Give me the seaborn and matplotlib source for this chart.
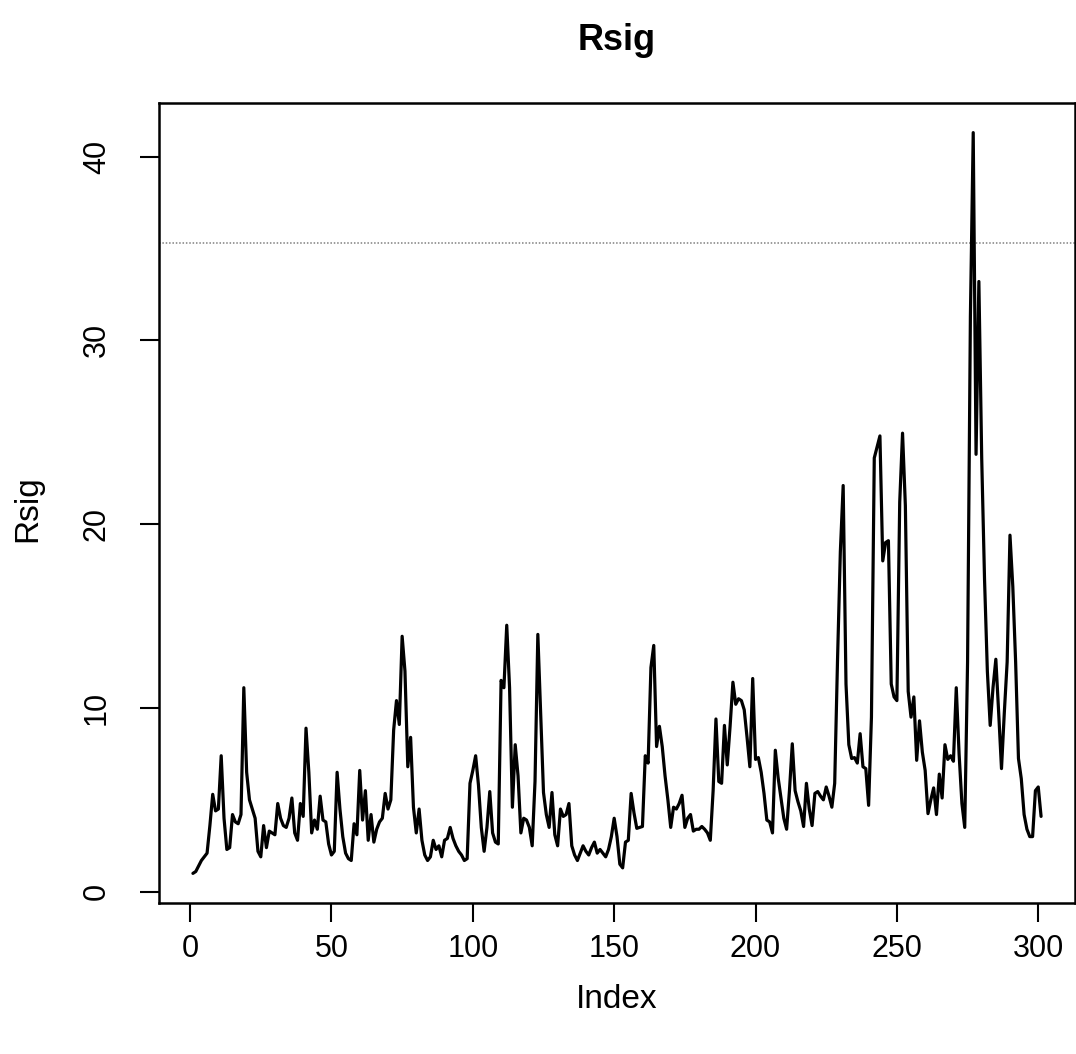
import numpy as np
import pandas as pd
import matplotlib
matplotlib.use("Agg")
import matplotlib.pyplot as plt
import seaborn as sns

# Rsig series (index 1..301), ten values per row
rsig = [
    1.0, 1.1, 1.4, 1.7, 1.9, 2.1, 3.6, 5.3, 4.4, 4.5,
    7.4, 4.0, 2.3, 2.4, 4.2, 3.8, 3.7, 4.2, 11.1, 6.5,
    5.0, 4.5, 4.0, 2.2, 1.9, 3.6, 2.4, 3.3, 3.2, 3.1,
    4.8, 4.0, 3.6, 3.5, 4.0, 5.1, 3.2, 2.8, 4.8, 4.1,
    8.9, 6.5, 3.2, 3.9, 3.4, 5.2, 3.9, 3.8, 2.6, 2.0,
    2.2, 6.5, 4.5, 3.0, 2.1, 1.8, 1.7, 3.7, 3.1, 6.6,
    3.9, 5.5, 2.8, 4.2, 2.7, 3.4, 3.8, 4.0, 5.35, 4.5,
    5.0, 8.8, 10.4, 9.1, 13.9, 12.0, 6.8, 8.4, 4.6, 3.2,
    4.5, 2.8, 2.0, 1.7, 1.9, 2.8, 2.3, 2.5, 1.9, 2.8,
    2.9, 3.5, 2.9, 2.5, 2.2, 2.0, 1.7, 1.8, 5.9, 6.6,
    7.4, 5.8, 3.5, 2.2, 3.5, 5.45, 3.2, 2.7, 2.6, 11.5,
    11.1, 14.5, 11.1, 4.6, 8.0, 6.3, 3.2, 4.0, 3.9, 3.5,
    2.5, 6.0, 14.0, 9.7, 5.4, 4.2, 3.5, 5.4, 3.1, 2.5,
    4.5, 4.1, 4.2, 4.8, 2.5, 2.0, 1.7, 2.1, 2.5, 2.2,
    2.0, 2.4, 2.7, 2.1, 2.3, 2.1, 1.9, 2.3, 3.0, 4.0,
    3.0, 1.5, 1.3, 2.7, 2.8, 5.35, 4.3, 3.45, 3.5, 3.55,
    7.4, 7.0, 12.2, 13.4, 7.9, 9.0, 7.9, 6.3, 5.0, 3.5,
    4.6, 4.5, 4.8, 5.25, 3.5, 4.0, 4.2, 3.3, 3.4, 3.4,
    3.55, 3.4, 3.2, 2.8, 5.5, 9.4, 6.0, 5.9, 9.05, 6.9,
    9.0, 11.4, 10.2, 10.5, 10.4, 9.9, 8.4, 6.8, 11.6, 7.2,
    7.3, 6.5, 5.35, 3.9, 3.8, 3.2, 7.7, 6.2, 5.1, 4.0,
    3.4, 5.5, 8.05, 5.5, 4.9, 4.4, 3.55, 5.9, 4.5, 3.6,
    5.35, 5.45, 5.2, 5.0, 5.7, 5.2, 4.6, 5.9, 12.6, 18.5,
    22.1, 11.3, 8.0, 7.25, 7.3, 7.0, 8.6, 6.8, 6.7, 4.7,
    9.5, 23.6, 24.2, 24.8, 18.0, 19.0, 19.1, 11.3, 10.6, 10.4,
    21.2, 24.95, 21.0, 10.9, 9.5, 10.6, 7.15, 9.3, 7.6, 6.6,
    4.25, 5.0, 5.65, 4.2, 6.4, 5.1, 8.0, 7.2, 7.4, 7.1,
    11.1, 7.5, 4.8, 3.5, 12.5, 31.3, 41.3, 23.8, 33.2, 23.6,
    17.0, 12.0, 9.05, 11.1, 12.65, 9.75, 6.7, 9.75, 12.5, 19.4,
    16.6, 12.5, 7.25, 6.15, 4.2, 3.4, 3.0, 3.0, 5.5, 5.7,
    4.1,
]
index = list(range(1, len(rsig) + 1))

x_ticks = [0, 50, 100, 150, 200, 250, 300]
y_ticks = [0, 10, 20, 30, 40]
ref_level = 35.3  # faint dotted line across the scan

df = pd.DataFrame({"Index": index, "Rsig": rsig})

sns.set_theme(style="ticks")
plt.rcParams["font.family"] = ["Liberation Sans", "DejaVu Sans"]
plt.rcParams["text.color"] = "black"

fig = plt.figure(figsize=(10.76, 10.54), dpi=100)
W, H = 1076, 1054
ax = fig.add_axes([159 / W, 1 - 903 / H, (1075 - 159) / W, (903 - 103) / H])

ax.axhline(ref_level, color="0.5", lw=1.1, ls=(0, (1, 1.2)), zorder=1)
sns.lineplot(data=df, x="Index", y="Rsig", color="black", linewidth=2.3,
             ax=ax, zorder=3)

# R style limits: data range plus 4% on each side
xr = max(index) - min(index)
yr = max(rsig) - min(rsig)
ax.set_xlim(min(index) - 0.04 * xr, max(index) + 0.04 * xr)
ax.set_ylim(min(rsig) - 0.04 * yr, max(rsig) + 0.04 * yr)

ax.set_xticks(x_ticks)
ax.set_yticks(y_ticks)
ax.tick_params(axis="both", labelsize=22, length=14, width=1.5, color="black",
               labelcolor="black")
ax.tick_params(axis="x", pad=8)
ax.tick_params(axis="y", pad=20)
for lab in ax.get_yticklabels():
    lab.set_rotation(90)
    lab.set_va("center")

for s in ax.spines.values():
    s.set_visible(True)
    s.set_color("black")
    s.set_linewidth(1.8)

ax.set_xlabel("")
ax.set_ylabel("")
fig.text(617 / W, 1 - 1000 / H, "Index", ha="center", va="center", fontsize=24)
fig.text(28 / W, 1 - 509 / H, "Rsig", ha="center", va="center", fontsize=24,
         rotation=90)
fig.text(617 / W, 1 - 40 / H, "Rsig", ha="center", va="center", fontsize=26,
         fontweight="bold")

fig.savefig("out.png", dpi=100, facecolor="white")
